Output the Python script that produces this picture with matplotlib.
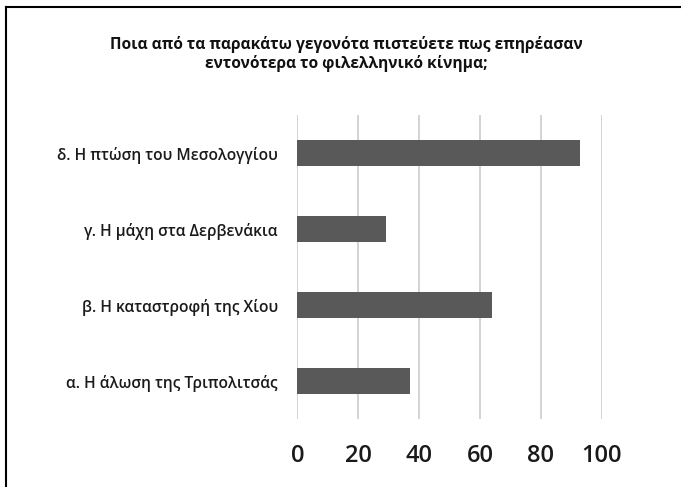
import matplotlib
matplotlib.use("Agg")
import matplotlib.pyplot as plt
from matplotlib.lines import Line2D

plt.rcParams['font.family'] = ['Open Sans', 'Noto Sans', 'DejaVu Sans']

title = "Ποια από τα παρακάτω γεγονότα πιστεύετε πως επηρέασαν\nεντονότερα το φιλελληνικό κίνημα;"
categories = ["α. Η άλωση της Τριπολιτσάς",
              "β. Η καταστροφή της Χίου",
              "γ. Η μάχη στα Δερβενάκια",
              "δ. Η πτώση του Μεσολογγίου"]
values = [37, 64, 29, 93]
xticks = [0, 20, 40, 60, 80, 100]

W, H = 681, 487
fig = plt.figure(figsize=(W / 100, H / 100), dpi=100)
fig.patch.set_facecolor('white')

ax = fig.add_axes([297.3 / W, 1 - 419 / H, (601.7 - 297.3) / W, (419 - 115) / H])
ypos = list(range(len(categories)))
ax.barh(ypos, values, height=0.345, color='#595959', zorder=3)
ax.set_xlim(0, 100)
ax.set_ylim(-0.5, len(categories) - 0.5)
ax.set_xticks(xticks)
ax.set_xticklabels([str(t) for t in xticks], fontweight='semibold')
ax.set_yticks(ypos)
ax.set_yticklabels(categories, fontweight='semibold')
ax.grid(axis='x', color='#d0d0d0', linewidth=1.3, zorder=0)
for s in ax.spines.values():
    s.set_visible(False)
ax.tick_params(axis='x', length=0, pad=18, labelsize=17, labelcolor='#1a1a1a')
ax.tick_params(axis='y', length=0, pad=14, labelsize=11.2, labelcolor='#1a1a1a')

fig.text(346.7 / W, 1 - 54 / H, title, ha='center', va='center',
         fontsize=11.2, fontweight='bold', color='#111111', linespacing=1.17)

# outer frame (top and left edges visible)
fig.add_artist(Line2D([6 / W, 6 / W], [0, 1 - 7 / H], transform=fig.transFigure,
                      color='black', linewidth=1.5))
fig.add_artist(Line2D([6 / W, 1], [1 - 7 / H, 1 - 7 / H], transform=fig.transFigure,
                      color='black', linewidth=1.5))

fig.savefig('out.png', dpi=100)
